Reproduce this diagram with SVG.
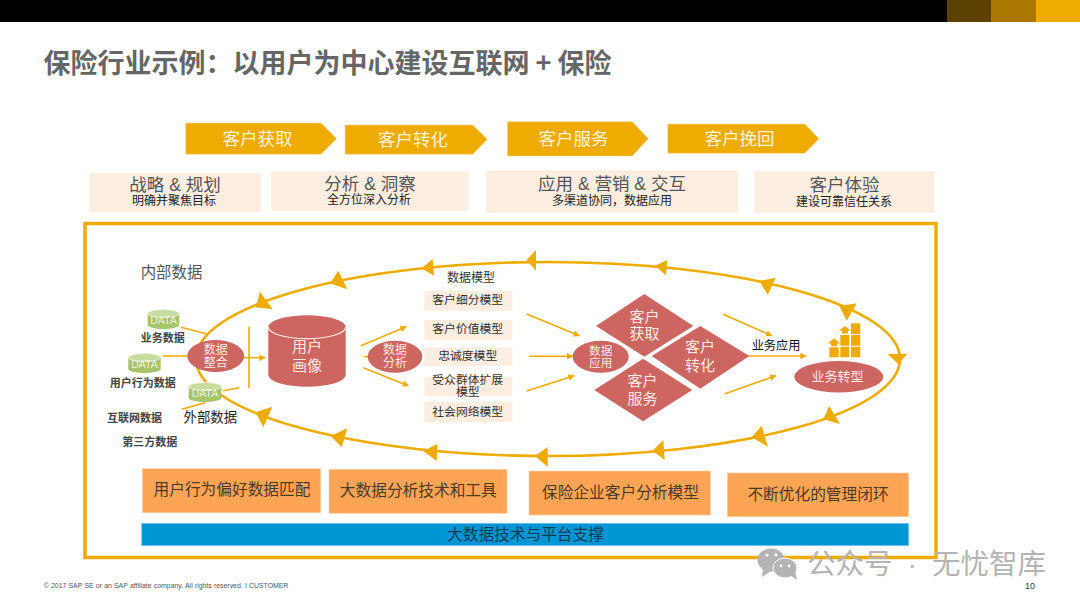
<svg xmlns="http://www.w3.org/2000/svg" width="1080" height="608" viewBox="0 0 1080 608">
<style>
text{font-family:"Liberation Sans","Noto Sans CJK SC",sans-serif;text-anchor:middle;dominant-baseline:central;fill:#333}
.cjk{font-family:"Noto Sans CJK SC","Liberation Sans",sans-serif}
.w{fill:#fbe9e4}
.red{fill:#cd6661}
.chev{fill:#f0ab00;stroke:#f8d98a;stroke-width:.6}
.chev-t{font-size:17.5px;fill:#fdf3dc}
.pink{fill:#fdeee1}
.h{font-size:17.5px;fill:#555}
.s{font-size:12px;fill:#222}
.m{font-size:11.8px;fill:#333}
.b{font-weight:700;font-size:11px;fill:#444}
.lbl{fill:#fea555;stroke:#fdd0a6;stroke-width:.7}
.lbl-t{font-size:15.7px;fill:#4d3a24}
.line{stroke:#f0ab00;stroke-width:1.6;fill:none}
.ar{marker-end:url(#ah)}
.tri{fill:#f0ab00}
.g{fill:#a6c46c}
.gt{fill:#c9dca0;stroke:#f3f7e6;stroke-width:.8}
.d{font-size:10.5px;fill:#eef5de}
.block{fill:#f0ab00}
</style>
<defs>
<marker id="ah" viewBox="0 0 8 8" refX="7" refY="4" markerWidth="6.5" markerHeight="6.5" markerUnits="userSpaceOnUse" orient="auto"><path d="M0 0L8 4L0 8Z" fill="#f0ab00"/></marker>
</defs>
<rect width="1080" height="608" fill="#fff"/>
<g id="header">
<rect width="947" height="22" fill="#000"/>
<rect x="947" width="44" height="22" fill="#5c4100"/>
<rect x="991" width="45" height="22" fill="#aa7800"/>
<rect x="1036" width="44" height="22" fill="#f0ab00"/>
</g>
<text class="cjk" x="327.5" y="61" style="font-size:27px;font-weight:700;fill:#666">保险行业示例&#xFF1A;以用户为中心建设互联网 + 保险</text>

<g id="chevrons">
<g id="c1"><polygon class="chev" points="185.7,123 321,123 336.7,138.7 321,154.3 185.7,154.3"/><text class="chev-t cjk" x="257.5" y="137">客户获取</text></g>
<g id="c2"><polygon class="chev" points="345,125 472.7,125 487.3,139.3 472.7,154.3 345,154.3"/><text class="chev-t cjk" x="413" y="138">客户转化</text></g>
<g id="c3"><polygon class="chev" points="507.3,121.7 632.3,121.7 648.3,138.7 632.3,156 507.3,156"/><text class="chev-t cjk" x="573.5" y="137">客户服务</text></g>
<g id="c4"><polygon class="chev" points="667.7,124 804.7,124 819,138.7 804.7,153.3 667.7,153.3"/><text class="chev-t cjk" x="739.5" y="137">客户挽回</text></g>
</g>
<g id="headers">
<g id="h1"><rect class="pink" x="89.3" y="173" width="171.7" height="39"/><text class="h" x="175" y="185">战略 &amp; 规划</text><text class="s" x="174" y="201">明确并聚焦目标</text></g>
<g id="h2"><rect class="pink" x="271" y="171.3" width="198" height="39.7"/><text class="h" x="370" y="184">分析 &amp; 洞察</text><text class="s" x="369" y="199.5">全方位深入分析</text></g>
<g id="h3"><rect class="pink" x="486" y="170.3" width="252" height="42.4"/><text class="h" x="612" y="184">应用 &amp; 营销 &amp; 交互</text><text class="s" x="612" y="200.5">多渠道协同&#xFF0C;数据应用</text></g>
<g id="h4"><rect class="pink" x="754" y="171.3" width="180" height="41.4"/><text class="h" x="844.5" y="185">客户体验</text><text class="s" x="844" y="201.5">建设可靠信任关系</text></g>
</g>
<rect id="frame" x="85" y="223.5" width="851" height="334" fill="none" stroke="#f0ab00" stroke-width="3.5"/>

<g id="connectors">
<ellipse cx="548" cy="359" rx="352" ry="97" fill="none" stroke="#f0ab00" stroke-width="2.6"/>
<g class="arrowheads">
<polygon class="tri" points="255.7,307.3 260,291.7 272.7,309.3"/>
<polygon class="tri" points="330,283.3 338.3,270.7 347.3,289.3"/>
<polygon class="tri" points="421.7,268.3 432.7,259 434,275.7"/>
<polygon class="tri" points="526.7,260 536,250 536,270.7"/>
<polygon class="tri" points="655,265.7 667.3,260 666,275.3"/>
<polygon class="tri" points="759.3,281 775.7,277.7 767.7,294.7"/>
<polygon class="tri" points="846.7,320.7 839.3,306 856.7,303.3"/>
<polygon class="tri" points="898.3,364 887.7,354 907.3,354"/>
<polygon class="tri" points="823.3,419.3 829.3,406 840,424"/>
<polygon class="tri" points="751.7,437.3 761.7,425.7 767.7,446.7"/>
<polygon class="tri" points="652.7,450.7 663.3,440 664.7,460"/>
<polygon class="tri" points="535,456 547.7,447 547.7,467"/>
<polygon class="tri" points="423.3,451 437.3,444 436.7,461"/>
<polygon class="tri" points="330.7,436 347.3,428.3 341.7,447.3"/>
<polygon class="tri" points="255.7,412.3 272.3,406.7 263.3,427.3"/>
</g>
<line class="line" x1="181" y1="327.3" x2="208.3" y2="334.3"/>
<line class="line" x1="162.7" y1="356" x2="187.3" y2="356"/>
<line class="line" x1="223.3" y1="390.7" x2="239.3" y2="387.7"/>
<line class="line" x1="181.7" y1="409.3" x2="205" y2="402.7"/>
<line class="line" x1="249" y1="326.7" x2="249" y2="388.3"/>
<line class="line ar" x1="243.3" y1="357.7" x2="265" y2="357.7"/>
<line class="line ar" x1="361" y1="345.7" x2="406" y2="326.7"/>
<line class="line" x1="364" y1="356.7" x2="368" y2="356.7"/>
<line class="line ar" x1="363.3" y1="367.7" x2="408.3" y2="385.7"/>
<line class="line ar" x1="526.7" y1="314" x2="579.3" y2="335.7"/>
<line class="line ar" x1="529.3" y1="356.3" x2="572.7" y2="356.3"/>
<line class="line ar" x1="526.7" y1="391" x2="574" y2="375.7"/>
<line class="line ar" x1="723.3" y1="314.3" x2="771.7" y2="335.7"/>
<line class="line ar" x1="748.3" y1="356" x2="806" y2="356"/>
<line class="line ar" x1="725" y1="393.7" x2="775.7" y2="375.7"/>
</g>

<text x="171.5" y="272.5" style="font-size:15.4px;fill:#555">内部数据</text>
<g id="data1"><path class="g" d="M147.7 313.5V325A15.8 4 0 0 0 179.3 325V313.5Z"/><ellipse class="gt" cx="163.5" cy="313.5" rx="15.8" ry="4"/><text class="d" x="163.5" y="319.5">DATA</text></g>
<text class="b" x="162.7" y="338">业务数据</text>
<g id="data2"><path class="g" d="M128.3 357.5V369A16.2 4 0 0 0 160.7 369V357.5Z"/><ellipse class="gt" cx="144.5" cy="357.5" rx="16.2" ry="4"/><text class="d" x="144.5" y="364">DATA</text></g>
<text class="b" x="142.7" y="382.7">用户行为数据</text>
<g id="data3"><path class="g" d="M188.7 386.5V398A16.3 4 0 0 0 221.3 398V386.5Z"/><ellipse class="gt" cx="205" cy="386.5" rx="16.3" ry="4"/><text class="d" x="205" y="393">DATA</text></g>
<text x="210.3" y="417" style="font-size:13.4px;fill:#222">外部数据</text>
<text class="b" x="134.5" y="418">互联网数据</text>
<text class="b" x="149.7" y="442">第三方数据</text>

<g id="node-integrate"><ellipse class="red" cx="215.7" cy="356" rx="28.5" ry="16"/><text class="w" x="215.7" y="349.5" style="font-size:12px">数据</text><text class="w" x="215.7" y="363" style="font-size:12px">整合</text></g>
<g id="node-profile"><path class="red" d="M268.3 327V375A38.7 11.7 0 0 0 345.7 375V327A38.7 11.7 0 0 0 268.3 327Z"/><path d="M268.3 327A38.7 11.7 0 0 0 345.7 327" fill="none" stroke="#fbe9e4" stroke-width="1.2"/><text class="w" x="307" y="346" style="font-size:15px">用户</text><text class="w" x="307" y="365" style="font-size:15px">画像</text></g>
<g id="node-analysis"><ellipse class="red" cx="395" cy="356.7" rx="27.3" ry="16"/><text class="w" x="395" y="350" style="font-size:12px">数据</text><text class="w" x="395" y="363" style="font-size:12px">分析</text></g>

<text x="471" y="278" class="m" style="font-size:12px">数据模型</text>
<g id="model1"><rect class="pink" x="424.3" y="290.7" width="88" height="20"/><text class="m" x="467.7" y="300">客户细分模型</text></g>
<g id="model2"><rect class="pink" x="424.3" y="320" width="88" height="20"/><text class="m" x="467.7" y="329.3">客户价值模型</text></g>
<g id="model3"><rect class="pink" x="424.3" y="347.3" width="88" height="18.7"/><text class="m" x="467.7" y="356">忠诚度模型</text></g>
<g id="model4"><rect class="pink" x="424.3" y="376.7" width="88" height="19.3"/><text class="m" x="467.7" y="380">受众群体扩展</text><text class="m" x="467.7" y="392.3">模型</text></g>
<g id="model5"><rect class="pink" x="424.3" y="402" width="88" height="20"/><text class="m" x="467.7" y="411.7">社会网络模型</text></g>

<g id="node-apply"><ellipse class="red" cx="600.7" cy="356.7" rx="28" ry="16"/><text class="w" x="600.7" y="350" style="font-size:11.6px">数据</text><text class="w" x="600.7" y="362.5" style="font-size:11.6px">应用</text></g>
<g id="d-acquire"><polygon class="red" points="644.3,294 693.3,326 644.3,356.7 596,326"/><text class="w" x="644.5" y="316.7" style="font-size:15px">客户</text><text class="w" x="644.5" y="333.5" style="font-size:15px">获取</text></g>
<g id="d-convert"><polygon class="red" points="700.3,326 749.3,356 700.3,388.7 651.7,356"/><text class="w" x="700" y="346.7" style="font-size:15px">客户</text><text class="w" x="700" y="365" style="font-size:15px">转化</text></g>
<g id="d-service"><polygon class="red" points="643,358.7 692.3,390 643,421.3 594.3,390"/><text class="w" x="642.5" y="380" style="font-size:15px">客户</text><text class="w" x="642.5" y="398" style="font-size:15px">服务</text></g>
<text x="776" y="346" style="font-size:12.2px;fill:#111">业务应用</text>
<g id="icon-growth">
<rect class="block" x="829.3" y="347.3" width="9.4" height="10"/>
<rect class="block" x="840.3" y="335" width="9" height="10.7"/><rect class="block" x="840.3" y="346.7" width="9" height="10.6"/>
<rect class="block" x="851" y="323.3" width="9.3" height="10.7"/><rect class="block" x="851" y="335" width="9.3" height="10.7"/><rect class="block" x="851" y="346.7" width="9.3" height="10.6"/>
<polygon class="block" points="834,338.3 840.5,343.5 837,343.5 837,346.3 831,346.3 831,343.5 827.7,343.5"/>
<polygon class="block" points="845,326 851,330.7 848,330.7 848,333.5 842,333.5 842,330.7 838.7,330.7"/>
</g>
<g id="node-transform"><ellipse class="red" cx="838.8" cy="376.7" rx="44.5" ry="15.7"/><text class="w" x="837.5" y="376" style="font-size:13px">业务转型</text></g>

<g id="bottom">
<g id="b1"><rect class="lbl" x="142.3" y="468.7" width="178.4" height="44"/><text class="lbl-t" x="232" y="489.5">用户行为偏好数据匹配</text></g>
<g id="b2"><rect class="lbl" x="329" y="469.3" width="178" height="44"/><text class="lbl-t" x="418.3" y="490.7">大数据分析技术和工具</text></g>
<g id="b3"><rect class="lbl" x="529" y="471" width="181.3" height="44"/><text class="lbl-t" x="620.5" y="492">保险企业客户分析模型</text></g>
<g id="b4"><rect class="lbl" x="727.3" y="473" width="181.4" height="43.7"/><text class="lbl-t" x="818" y="494">不断优化的管理闭环</text></g>
<g id="b5"><rect x="141.7" y="523.3" width="767" height="22.4" fill="#0096d6" stroke="#7cc6ea" stroke-width=".7"/><text x="525.5" y="534" style="font-size:15.7px;fill:#103a55">大数据技术与平台支撑</text></g>
</g>
<text x="166" y="585.5" style="font-size:6.9px;fill:#555;word-spacing:.3px">© 2017 SAP SE or an SAP affiliate company. All rights reserved.   I   CUSTOMER</text>
<text x="1030" y="586" style="font-size:9px;fill:#333">10</text>
<g id="watermark" fill="#b4b4b4">
<ellipse cx="771" cy="560" rx="13.5" ry="11.5"/><polygon points="763,568 762,577 771,571"/>
<ellipse cx="785" cy="568" rx="12" ry="10" stroke="#fff" stroke-width="1"/><polygon points="790,575 797,580 795,571"/>
<circle cx="767" cy="555" r="1.6" fill="#fff"/><circle cx="776" cy="555" r="1.6" fill="#fff"/><circle cx="781" cy="566" r="1.4" fill="#fff"/><circle cx="789" cy="566" r="1.4" fill="#fff"/>
<text x="926.5" y="564" style="font-size:28.5px;fill:#b4b4b4;word-spacing:7px">公众号 · 无忧智库</text>
</g>
</svg>
